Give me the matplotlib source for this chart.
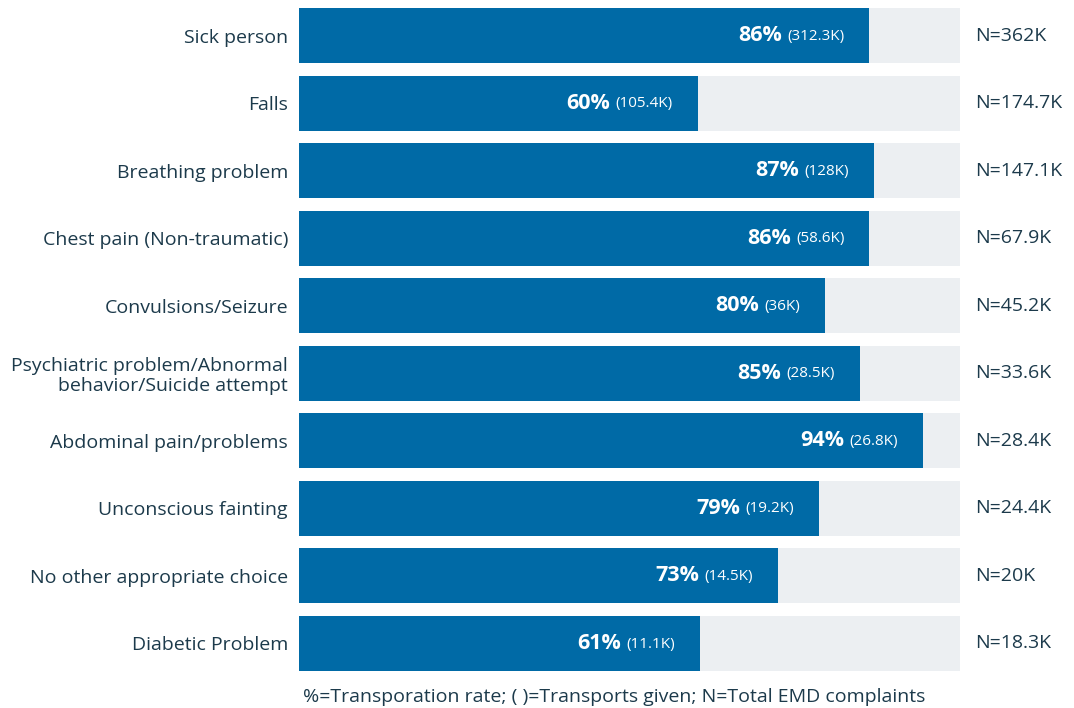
import matplotlib.pyplot as plt
import numpy as np

plt.rcParams['font.family'] = ['Open Sans', 'DejaVu Sans']

categories = ["Sick person", "Falls", "Breathing problem", "Chest pain (Non-traumatic)",
              "Convulsions/Seizure", "Psychiatric problem/Abnormal\nbehavior/Suicide attempt",
              "Abdominal pain/problems", "Unconscious fainting",
              "No other appropriate choice", "Diabetic Problem"]
rate = [86.3, 60.3, 87.0, 86.3, 79.6, 84.8, 94.4, 78.7, 72.5, 60.7]
rate_labels = ["86%", "60%", "87%", "86%", "80%", "85%", "94%", "79%", "73%", "61%"]
transports = ["312.3K", "105.4K", "128K", "58.6K", "36K", "28.5K", "26.8K", "19.2K", "14.5K", "11.1K"]
totals = ["362K", "174.7K", "147.1K", "67.9K", "45.2K", "33.6K", "28.4K", "24.4K", "20K", "18.3K"]

blue = '#006aa6'
grey = '#eceff2'
txt = '#1c3a4b'

fig = plt.figure(figsize=(10.74, 7.08), dpi=100)
ax = fig.add_axes([299/1074, 1-671/708, 661/1074, 663/708])

y = np.arange(len(categories))
h = 0.82
ax.barh(y, [100]*len(y), height=h, color=grey)
ax.barh(y, rate, height=h, color=blue)
ax.set_xlim(0, 100)
ax.set_ylim(len(y) - 1 + h/2, -h/2)

ax.set_yticks(y)
ax.set_yticklabels(categories, fontsize=14, color=txt, linespacing=1.1)
ax.tick_params(axis='y', length=0, pad=8)
ax.set_xticks([])
for s in ax.spines.values():
    s.set_visible(False)

for i in y:
    t = ax.annotate(f"({transports[i]})", xy=(rate[i], i), xytext=(-18, -0.5),
                    textcoords='offset points', ha='right', va='center',
                    color='white', fontsize=11)
    ax.annotate(rate_labels[i], xy=(0, 0.5), xycoords=t, xytext=(-4, 0.5),
                textcoords='offset points', ha='right', va='center',
                color='white', fontsize=15.5, fontweight='bold')
    ax.annotate(f"N={totals[i]}", xy=(100, i), xytext=(11, 0),
                textcoords='offset points', ha='left', va='center',
                color=txt, fontsize=14, annotation_clip=False)

fig.text(614/1074, 1-697/708, "%=Transporation rate; ( )=Transports given; N=Total EMD complaints",
         ha='center', va='center', fontsize=14, color=txt)

fig.savefig('out.png', dpi=100)
